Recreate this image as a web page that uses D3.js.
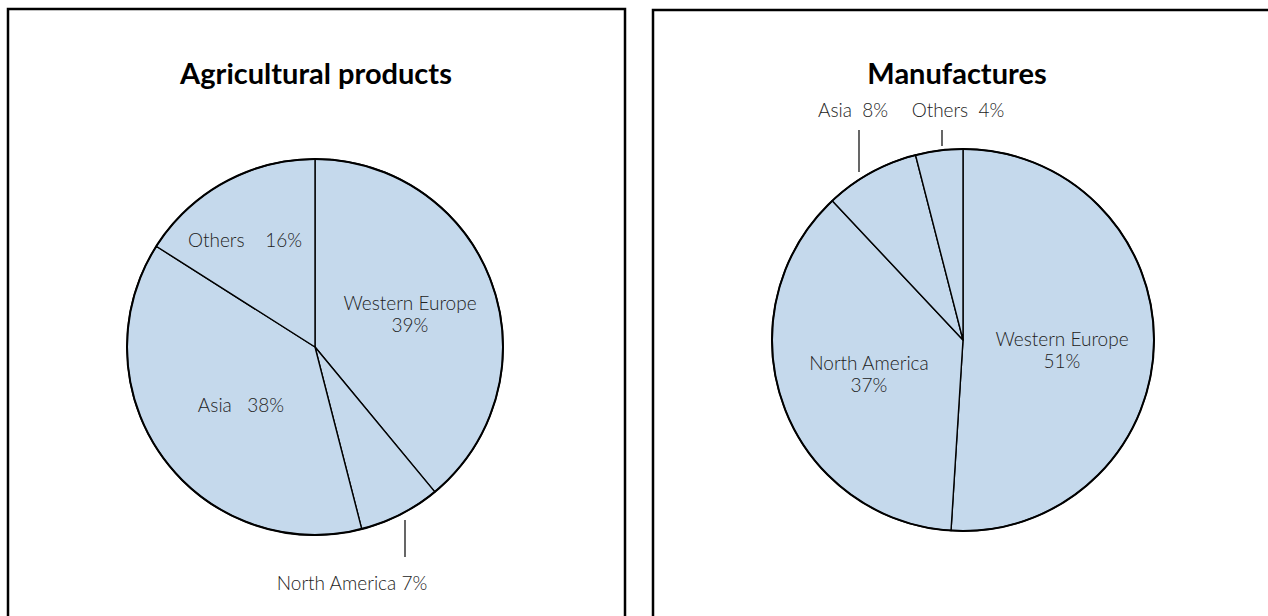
<!DOCTYPE html>
<html>
<head>
<meta charset="utf-8">
<script src="https://cdn.jsdelivr.net/npm/d3@7"></script>
<style>
  body { margin: 0; background: #fff; }
  text { font-family: Lato, "Liberation Sans", Arial, sans-serif; }
</style>
</head>
<body>
<div id="chart"></div>
<script>
// data
const agriRegions = ["Western Europe", "North America", "Asia", "Others"];
const agriShares = [39, 7, 38, 16];
const manuRegions = ["Western Europe", "North America", "Asia", "Others"];
const manuShares = [51, 37, 8, 4];
const titles = ["Agricultural products", "Manufactures"];

const W = 1268, H = 616;
const fill = "#c5d9ec";

const svg = d3.select("#chart").append("svg")
    .attr("width", W)
    .attr("height", H);

// panel frames (both run off the bottom, the right one off the right edge)
svg.append("rect").attr("x", 8).attr("y", 9).attr("width", 617).attr("height", 640)
    .attr("fill", "none").attr("stroke", "#000").attr("stroke-width", 2.5);
svg.append("rect").attr("x", 653).attr("y", 10).attr("width", 640).attr("height", 640)
    .attr("fill", "none").attr("stroke", "#000").attr("stroke-width", 2.5);

const pie = d3.pie().sort(null).value(d => d.v);

function drawPie(cx, cy, r, names, vals, title, titleX, labels, leaders) {
    const g = svg.append("g").attr("transform", "translate(" + cx + "," + cy + ")");
    const data = pie(names.map((n, i) => ({ n: n, v: vals[i] })));
    const arc = d3.arc().innerRadius(0).outerRadius(r);

    g.selectAll("path.slice")
        .data(data)
        .enter().append("path")
        .attr("class", "slice")
        .attr("d", arc)
        .attr("fill", fill)
        .attr("stroke", "#000")
        .attr("stroke-width", 1.4)
        .attr("stroke-linejoin", "round");

    // heavier rim
    g.append("circle").attr("r", r).attr("fill", "none")
        .attr("stroke", "#000").attr("stroke-width", 2);

    svg.append("text")
        .attr("x", titleX).attr("y", 84)
        .attr("text-anchor", "middle")
        .attr("font-size", 29).attr("font-weight", "bold")
        .attr("fill", "#000")
        .text(title);

    labels.forEach(l => {
        const d = data[l.i];
        const pct = d.data.v + "%";
        const lines = l.split ? [d.data.n, pct] : [d.data.n + l.gap + pct];
        const t = g.append("text")
            .attr("text-anchor", "middle")
            .attr("font-size", 19)
            .attr("font-weight", 300)
            .attr("fill", "#222")
            .style("white-space", "pre");
        lines.forEach((s, k) => {
            t.append("tspan").attr("x", l.x).attr("y", l.y + k * 22).text(s);
        });
    });

    leaders.forEach(p => {
        g.append("line")
            .attr("x1", p[0]).attr("y1", p[1])
            .attr("x2", p[0]).attr("y2", p[2])
            .attr("stroke", "#000").attr("stroke-width", 1.2);
    });
}

drawPie(315, 347, 188, agriRegions, agriShares, titles[0], 316, [
    { i: 0, split: true, x: 95, y: -37 },
    { i: 3, gap: "    ", x: -70, y: -100 },
    { i: 2, gap: "   ", x: -74, y: 65 },
    { i: 1, gap: " ", x: 37, y: 243 }
], [[90, 173, 210]]);

drawPie(963, 340, 191, manuRegions, manuShares, titles[1], 957, [
    { i: 0, split: true, x: 99, y: 6 },
    { i: 1, split: true, x: -94, y: 30 },
    { i: 2, gap: "  ", x: -110, y: -223 },
    { i: 3, gap: "  ", x: -5, y: -223 }
], [[-104, -210, -168], [-21, -210, -194]]);
</script>
</body>
</html>
